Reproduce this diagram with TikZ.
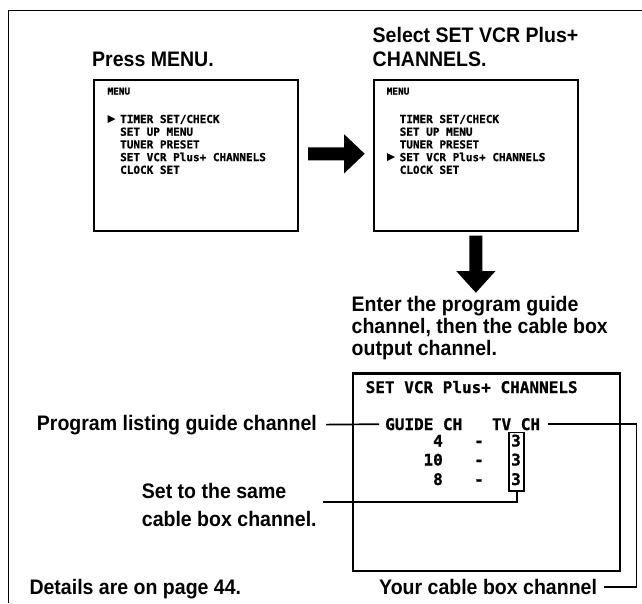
\documentclass[tikz,border=0pt]{standalone}
\usepackage{fontspec}
\setmainfont{Liberation Sans}
\newfontfamily\lab{Liberation Sans}[FakeStretch=0.93]
\newfontfamily\scr{DejaVu Sans Mono}[BoldFeatures={FakeBold=1}]
\usetikzlibrary{calc}
\tikzset{
  lbl/.style={font=\lab\bfseries\fontsize{21}{23.5}\selectfont, inner sep=0pt, anchor=base west},
  scrsmall/.style={font=\scr\bfseries\fontsize{9.4}{11}\selectfont, inner sep=0pt, anchor=base west},
  scrtxt/.style={font=\scr\bfseries\fontsize{11}{12.7}\selectfont, inner sep=0pt, anchor=base west},
  scrbig/.style={font=\scr\bfseries\fontsize{16}{19}\selectfont, inner sep=0pt, anchor=base west},
  screen/.style={draw, line width=2.2pt, inner sep=0pt, anchor=north west},
  leader/.style={line width=1.7pt},
  frameline/.style={line width=1.9pt},
}
\begin{document}
\begin{tikzpicture}[x=1pt,y=-1pt]
\useasboundingbox (0,0) rectangle (642,603);
\draw[frameline] (8.5,603) -- (8.5,10.5) -- (642,10.5);

% headings
\node[lbl] (press) at (92,66.5) {Press MENU.};
\node[lbl, font=\lab\bfseries\fontsize{21}{24}\selectfont] (select) at (372.5,42.7)
  {\begin{tabular}[t]{@{}l@{}}Select SET VCR Plus+\\CHANNELS.\end{tabular}};

% screens
\node[screen, minimum width=204, minimum height=151] (b1) at (92.5,78.5) {};
\node[screen, minimum width=204.5, minimum height=151] (b2) at (372.5,78.5) {};

\node[scrsmall] (m1t) at (107.3,94.5) {MENU};
\node[scrtxt] (m1l) at (120,123)
  {\begin{tabular}[t]{@{}l@{}}TIMER SET/CHECK\\SET UP MENU\\TUNER PRESET\\SET VCR Plus+ CHANNELS\\CLOCK SET\end{tabular}};
\fill[shift={(m1l.base west)}] (-12.5,-8) -- (-4.5,-4) -- (-12.5,0) -- cycle;

\node[scrsmall] (m2t) at (386.5,94.5) {MENU};
\node[scrtxt] (m2l) at (399.5,123)
  {\begin{tabular}[t]{@{}l@{}}TIMER SET/CHECK\\SET UP MENU\\TUNER PRESET\\SET VCR Plus+ CHANNELS\\CLOCK SET\end{tabular}};
\fill[shift={(m2l.base west)}] (-12.5,30.1) -- (-4.5,34.1) -- (-12.5,38.1) -- cycle;

% block arrows
\coordinate (ra) at ($(b1.east)+(9.5,-1.3)$);
\fill[shift={(ra)}] (0,-6.5) -- (36,-6.5) -- (36,-19.5) -- (56.5,0) -- (36,19.5) -- (36,6.5) -- (0,6.5) -- cycle;
\coordinate (da) at ($(b2.south)+(0,4)$);
\fill[shift={(da)}] (-6.5,0) -- (-6.5,35.5) -- (-19.5,35.5) -- (0,57) -- (19.5,35.5) -- (6.5,35.5) -- (6.5,0) -- cycle;

% third step
\node[lbl, font=\lab\bfseries\fontsize{21}{22}\selectfont] (enter) at (351.5,311)
  {\begin{tabular}[t]{@{}l@{}}Enter the program guide\\channel, then the cable box\\output channel.\end{tabular}};
\node[screen, minimum width=266.5, minimum height=197.7] (b3) at (352,372.3) {};
\node[scrbig] (ttl) at (365.5,393) {SET VCR Plus+ CHANNELS};
\node[scrbig] (guide) at (385,430) {GUIDE CH};
\node[scrbig] (tvch) at (491.7,430) {TV CH};
\node[scrbig, anchor=base east] (g1) at (443,446.5) {4};
\node[scrbig, anchor=base east] (g2) at (443,465.5) {10};
\node[scrbig, anchor=base east] (g3) at (443,485) {8};
\node[scrbig, anchor=base] (d1) at (479,446.5) {-};
\node[scrbig, anchor=base] (d2) at (479,465.5) {-};
\node[scrbig, anchor=base] (d3) at (479,485) {-};
\node[scrbig, anchor=base] (t1) at (516,446.5) {3};
\node[scrbig, anchor=base] (t2) at (516,465.5) {3};
\node[scrbig, anchor=base] (t3) at (516,485) {3};
\node[draw, line width=1.7pt, inner sep=0pt, minimum width=15, minimum height=58.3, anchor=north west] (tvbox) at (508.3,431.7) {};

% labels and leaders
\node[lbl] (plg) at (36.7,430) {Program listing guide channel};
\draw[leader] ([xshift=9pt]plg.east) -- ([xshift=-6pt]guide.west);

\node[lbl, font=\lab\bfseries\fontsize{21}{27.7}\selectfont] (same) at (141.7,498.3)
  {\begin{tabular}[t]{@{}l@{}}Set to the same\\cable box channel.\end{tabular}};
\coordinate (samec) at (323.3,502.3);
\draw[leader] (tvbox.south) |- (samec);

\node[lbl] (details) at (29.3,594.5) {Details are on page 44.};
\node[lbl] (your) at (379,594.5) {Your cable box channel};
\coordinate (rr) at (636.5,0);
\draw[leader] ([xshift=8pt]tvch.east) -- (tvch.east -| rr) |- ([xshift=7pt]your.east);
\end{tikzpicture}
\end{document}
